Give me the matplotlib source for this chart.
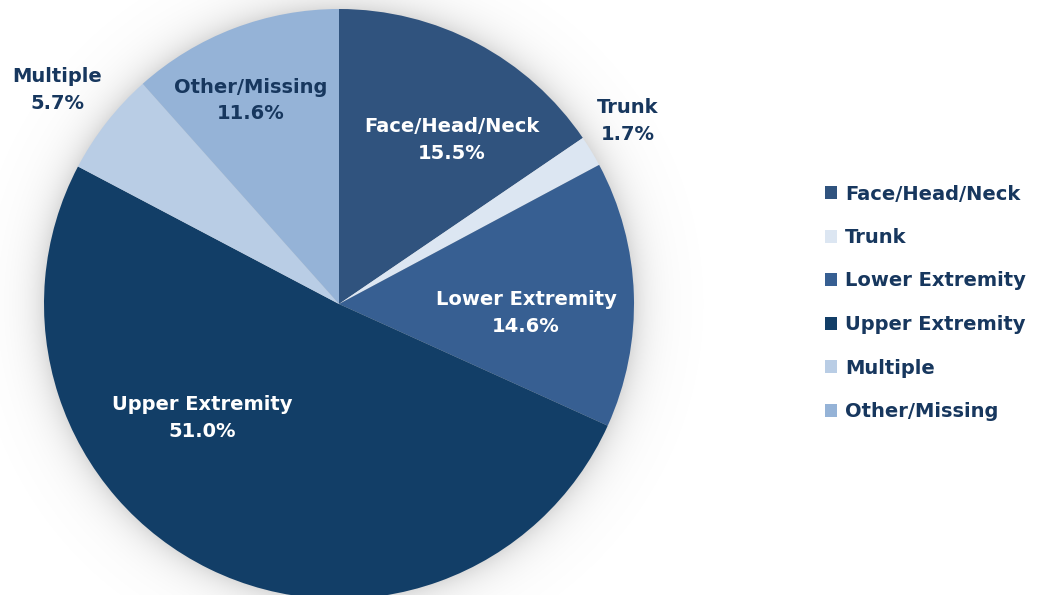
import numpy as np
import matplotlib.pyplot as plt

# data
categories = ["Face/Head/Neck", "Trunk", "Lower Extremity", "Upper Extremity", "Multiple", "Other/Missing"]
shares = [15.5, 1.7, 14.6, 51.0, 5.7, 11.6]
colors = ["#30537E", "#DCE6F2", "#375F92", "#123E67", "#B9CDE5", "#95B3D7"]

navy = "#17375E"
plt.rcParams['font.family'] = ['DejaVu Sans']

W, H = 1037, 595
cx, cy, R = 339, 304, 295  # pie centre / radius in pixels

fig = plt.figure(figsize=(W / 100, H / 100), dpi=100)
ax = fig.add_axes([0, 0, 1, 1])

# soft shadow round the pie
gx = np.linspace(-cx / R, (W - cx) / R, 700)
gy = np.linspace(-(H - cy) / R, cy / R, 420)
XX, YY = np.meshgrid(gx, gy)
rr = np.sqrt(XX ** 2 + YY ** 2)
glow = np.exp(-np.clip(rr - 0.985, 0, None) / 0.055) * 0.38
img = np.zeros(rr.shape + (4,))
img[..., :3] = 0.5
img[..., 3] = glow
ax.imshow(img, extent=[gx[0], gx[-1], gy[0], gy[-1]], origin='lower', zorder=0, interpolation='bilinear')

wedges, _ = ax.pie(shares, colors=colors, startangle=90, counterclock=False,
                   radius=1.0, wedgeprops=dict(linewidth=0))
for w in wedges:
    w.set_zorder(2)

# label positions (fraction of radius from the centre)
label_pos = [(0.383, 0.556), (0.98, 0.62), (0.634, -0.03), (-0.464, -0.386), (-0.956, 0.725), (-0.30, 0.69)]
label_col = ["white", navy, "white", "white", navy, navy]
for name, val, (lx, ly), c in zip(categories, shares, label_pos, label_col):
    ax.text(lx, ly, f"{name}\n{val:.1f}%", ha='center', va='center', color=c,
            fontsize=14, fontweight='bold', linespacing=1.5, zorder=3)

ax.set_xlim(-cx / R, (W - cx) / R)
ax.set_ylim(-(H - cy) / R, cy / R)
ax.set_aspect('auto')
ax.axis('off')

leg = ax.legend(wedges, categories, loc='upper left', bbox_to_anchor=(807 / W, 1 - 167 / H),
                bbox_transform=fig.transFigure, frameon=False, handlelength=0.65, handleheight=0.65,
                handletextpad=0.4, labelspacing=1.26, prop=dict(size=14, weight='bold'))
for t in leg.get_texts():
    t.set_color(navy)

fig.savefig("out.png", dpi=100)
